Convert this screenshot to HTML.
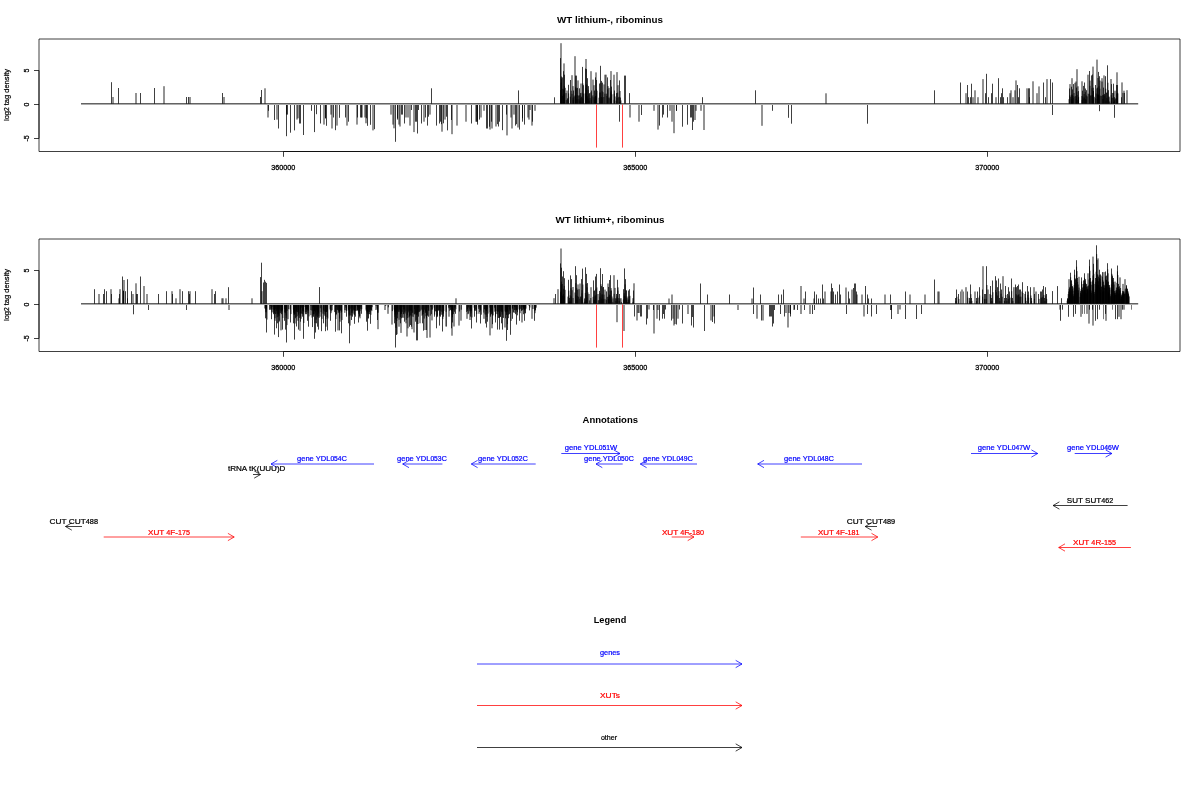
<!DOCTYPE html>
<html><head><meta charset="utf-8"><title>plot</title>
<style>html,body{margin:0;padding:0;background:#fff;}body{width:1200px;height:800px;overflow:hidden;font-family:"Liberation Sans",sans-serif;}svg{display:block;will-change:transform;}</style>
</head><body>
<svg width="1200" height="800" viewBox="0 0 1200 800" font-family="'Liberation Sans', sans-serif">
<rect width="1200" height="800" fill="#fff"/>
<text x="610" y="23.1" font-size="9.9" font-weight="bold" textLength="106" lengthAdjust="spacingAndGlyphs" text-anchor="middle" fill="#000" stroke="#000" stroke-width="0" >WT lithium-, ribominus</text>
<path d="M39 39H1180V151.5H39Z" stroke="#000" stroke-width="0.75" fill="none"/>
<path d="M39 70.5V138.5" stroke="#000" stroke-width="0.75" fill="none"/>
<path d="M34 70.5H39" stroke="#000" stroke-width="0.75" fill="none"/>
<text transform="translate(28.7 70.5) rotate(-90)" font-size="7.0" text-anchor="middle" stroke="#000" stroke-width="0.28">5</text>
<path d="M34 104.5H39" stroke="#000" stroke-width="0.75" fill="none"/>
<text transform="translate(28.7 104.5) rotate(-90)" font-size="7.0" text-anchor="middle" stroke="#000" stroke-width="0.28">0</text>
<path d="M34 138.5H39" stroke="#000" stroke-width="0.75" fill="none"/>
<text transform="translate(28.7 138.5) rotate(-90)" font-size="7.0" text-anchor="middle" stroke="#000" stroke-width="0.28">-5</text>
<text transform="translate(9.1 95) rotate(-90)" font-size="7.92" text-anchor="middle" stroke="#000" stroke-width="0.22" textLength="52" lengthAdjust="spacingAndGlyphs">log<tspan font-size="7.0">2</tspan> tag density</text>
<path d="M283.5 151.5H987.5" stroke="#000" stroke-width="0.75" fill="none"/>
<path d="M283.5 151.5V156.8" stroke="#000" stroke-width="0.75" fill="none"/>
<text x="283.2" y="170.1" font-size="7.0" text-anchor="middle" stroke="#000" stroke-width="0.28" textLength="24" lengthAdjust="spacingAndGlyphs">360000</text>
<path d="M635.5 151.5V156.8" stroke="#000" stroke-width="0.75" fill="none"/>
<text x="635.2" y="170.1" font-size="7.0" text-anchor="middle" stroke="#000" stroke-width="0.28" textLength="24" lengthAdjust="spacingAndGlyphs">365000</text>
<path d="M987.5 151.5V156.8" stroke="#000" stroke-width="0.75" fill="none"/>
<text x="987.2" y="170.1" font-size="7.0" text-anchor="middle" stroke="#000" stroke-width="0.28" textLength="24" lengthAdjust="spacingAndGlyphs">370000</text>
<path d="M111.5 82.2V103.8M118.5 88.0V103.8M140.5 93.0V103.8M154.5 88.0V103.8M186.5 97.0V103.8M188.5 97.0V103.8M222.5 93.0V103.8M260.5 97.0V103.8M261.5 90.0V103.8M268.5 105.0V110.8M274.5 105.0V120.0M278.5 105.0V128.5M286.5 105.0V114.6M287.5 105.0V114.6M286.5 105.0V136.2M290.5 105.0V132.7M294.5 105.0V130.4M299.5 105.0V123.5M300.5 105.0V123.5M303.5 105.0V135.0M311.5 105.0V110.8M314.5 105.0V132.1M316.5 105.0V114.2M320.5 105.0V123.5M325.5 105.0V118.3M325.5 105.0V118.3M326.5 105.0V125.8M333.5 105.0V117.5M335.5 105.0V130.2M339.5 105.0V117.8M345.5 105.0V117.5M348.5 105.0V121.7M357.5 105.0V117.5M360.5 105.0V117.5M361.5 105.0V117.5M367.5 105.0V125.8M366.5 105.0V118.3M370.5 105.0V124.8M374.5 105.0V129.2M395.5 105.0V141.8M397.5 105.0V119.6M397.5 105.0V118.3M401.5 105.0V114.6M402.5 105.0V114.6M404.5 105.0V123.5M411.5 105.0V110.0M415.5 105.0V121.7M416.5 105.0V121.7M417.5 105.0V133.5M418.5 105.0V110.0M421.5 105.0V123.5M425.5 105.0V117.5M427.5 105.0V125.6M428.5 105.0V116.7M431.5 88.3V103.8M436.5 105.0V125.6M439.5 105.0V123.5M440.5 105.0V121.7M441.5 105.0V124.2M443.5 105.0V123.3M446.5 105.0V116.7M447.5 105.0V130.4M451.5 105.0V120.0M471.5 105.0V123.5M476.5 105.0V121.7M477.5 105.0V124.6M477.5 105.0V121.7M479.5 105.0V119.6M486.5 105.0V128.5M487.5 105.0V128.5M489.5 105.0V126.7M491.5 105.0V121.7M497.5 105.0V124.2M498.5 105.0V126.5M499.5 105.0V121.7M502.5 105.0V130.2M506.5 105.0V114.6M515.5 105.0V125.6M516.5 105.0V124.2M519.5 105.0V129.6M518.5 90.4V103.8M522.5 105.0V121.7M522.5 105.0V118.3M524.5 105.0V124.6M532.5 105.0V121.7M554.5 97.3V103.8M560.5 58.1V103.8M561.5 76.5V103.8M562.5 77.4V103.8M563.5 71.2V103.8M564.5 74.7V103.8M568.5 84.8V103.8M570.5 80.0V103.8M573.5 90.5V103.8M575.5 75.6V103.8M576.5 75.6V103.8M577.5 87.9V103.8M579.5 88.3V103.8M580.5 93.1V103.8M582.5 66.9V103.8M583.5 85.2V103.8M585.5 68.6V103.8M586.5 69.1V103.8M587.5 78.2V103.8M588.5 86.1V103.8M589.5 93.1V103.8M591.5 90.5V103.8M594.5 90.5V103.8M595.5 77.4V103.8M596.5 80.0V103.8M599.5 83.5V103.8M600.5 65.8V103.8M601.5 80.9V103.8M602.5 82.6V103.8M607.5 77.4V103.8M610.5 80.0V103.8M611.5 86.6V103.8M614.5 90.5V103.8M616.5 93.1V103.8M619.5 80.4V103.8M620.5 97.5V103.8M624.5 75.6V103.8M625.5 75.6V103.8M629.5 93.1V103.8M619.5 105.0V121.7M641.5 105.0V115.0M659.5 105.0V125.6M662.5 105.0V117.5M663.5 105.0V114.6M667.5 105.0V117.5M676.5 105.0V110.8M676.5 105.0V110.8M682.5 105.0V126.7M687.5 105.0V124.7M690.5 105.0V117.5M691.5 105.0V117.5M692.5 105.0V130.0M693.5 105.0V121.7M702.5 97.2V103.8M755.5 90.3V103.8M772.5 105.0V110.8M788.5 105.0V117.8M791.5 105.0V123.7M867.5 105.0V123.7M934.5 90.3V103.8M960.5 82.5V103.8M967.5 85.0V103.8M968.5 97.2V103.8M970.5 97.2V103.8M971.5 83.7V103.8M985.5 93.2V103.8M986.5 73.8V103.8M988.5 97.2V103.8M991.5 93.2V103.8M992.5 83.7V103.8M998.5 78.2V103.8M1000.5 97.2V103.8M1001.5 93.2V103.8M1002.5 88.3V103.8M1003.5 97.2V103.8M1007.5 97.2V103.8M1017.5 85.0V103.8M1018.5 97.2V103.8M1019.5 88.3V103.8M1028.5 88.3V103.8M1029.5 88.3V103.8M1029.5 97.2V103.8M1043.5 82.5V103.8M1045.5 97.2V103.8M1050.5 79.1V103.8M1052.5 82.5V103.8M1052.5 105.0V115.0M1069.5 88.5V103.8M1071.5 86.7V103.8M1072.5 89.4V103.8M1073.5 84.1V103.8M1076.5 87.6V103.8M1078.5 91.1V103.8M1082.5 90.7V103.8M1083.5 85.9V103.8M1084.5 82.5V103.8M1085.5 88.5V103.8M1086.5 90.2V103.8M1089.5 71.0V103.8M1091.5 75.4V103.8M1092.5 74.5V103.8M1093.5 91.1V103.8M1095.5 85.0V103.8M1097.5 87.6V103.8M1098.5 71.9V103.8M1099.5 76.2V103.8M1103.5 87.6V103.8M1105.5 76.2V103.8M1106.5 92.9V103.8M1107.5 65.3V103.8M1108.5 90.2V103.8M1111.5 84.1V103.8M1113.5 83.7V103.8M1114.5 97.2V103.8M1116.5 85.0V103.8M1117.5 85.0V103.8M1121.5 97.2V103.8M1124.5 92.9V103.8M1099.5 105.0V111.2M1114.5 105.0V117.8" stroke="#000" stroke-width="0.75" fill="none"/>
<path d="M113 97.0V103.8M136 93.0V103.8M164 86.2V103.8M190 97.0V103.8M224 97.0V103.8M265 88.3V103.8M268 105.0V117.5M277 105.0V119.6M297 105.0V119.6M298 105.0V118.3M324 105.0V124.6M331 105.0V114.6M332 105.0V128.5M337 105.0V125.6M347 105.0V125.6M357 105.0V124.6M362 105.0V117.5M365 105.0V117.5M366 105.0V123.3M373 105.0V130.4M391 105.0V114.6M393 105.0V124.6M394 105.0V128.3M399 105.0V124.6M400 105.0V126.5M406 105.0V117.5M408 105.0V117.5M410 105.0V125.6M414 105.0V132.1M424 105.0V121.7M430 105.0V114.6M442 105.0V131.7M445 105.0V119.6M452 105.0V134.2M457 105.0V125.6M466 105.0V121.7M476 105.0V121.7M481 105.0V117.5M484 105.0V110.8M490 105.0V129.6M492 105.0V128.5M496 105.0V126.5M507 105.0V135.4M511 105.0V117.5M512 105.0V128.5M514 105.0V114.6M518 105.0V127.5M528 105.0V117.5M529 105.0V119.6M530 105.0V110.0M532 105.0V125.6M535 105.0V110.8M561 43.2V103.8M564 63.4V103.8M566 93.1V103.8M567 90.5V103.8M572 75.2V103.8M573 86.1V103.8M575 56.2V103.8M578 80.4V103.8M581 83.5V103.8M586 59.0V103.8M591 71.2V103.8M593 79.6V103.8M594 85.2V103.8M596 72.4V103.8M604 84.4V103.8M605 74.7V103.8M606 74.7V103.8M608 86.1V103.8M609 87.9V103.8M611 71.1V103.8M614 74.7V103.8M617 72.1V103.8M618 85.2V103.8M630 105.0V117.5M639 105.0V121.7M654 105.0V110.8M658 105.0V129.6M670 105.0V110.8M672 105.0V121.7M674 105.0V133.2M695 105.0V120.0M696 105.0V110.8M701 105.0V110.8M704 105.0V130.0M762 105.0V125.8M826 93.3V103.8M966 93.2V103.8M973 97.2V103.8M975 90.3V103.8M978 97.2V103.8M983 79.1V103.8M996 97.2V103.8M1010 93.2V103.8M1011 90.3V103.8M1013 97.2V103.8M1015 90.3V103.8M1016 80.4V103.8M1027 88.3V103.8M1033 81.3V103.8M1037 93.2V103.8M1039 86.4V103.8M1047 79.1V103.8M1070 84.1V103.8M1072 78.2V103.8M1075 82.8V103.8M1076 81.5V103.8M1077 69.2V103.8M1078 86.3V103.8M1082 81.3V103.8M1088 74.7V103.8M1090 80.6V103.8M1093 66.6V103.8M1097 59.6V103.8M1098 78.0V103.8M1100 80.6V103.8M1102 81.5V103.8M1102 78.2V103.8M1104 75.4V103.8M1109 97.2V103.8M1111 79.0V103.8M1115 90.7V103.8M1117 72.3V103.8M1122 82.4V103.8M1123 92.9V103.8M1124 90.7V103.8M1127 90.2V103.8" stroke="#000" stroke-width="0.85" fill="none"/>
<path d="M561.24 82.6V103.8M561.44 78.7V103.8M560.54 90.1V103.8M562.31 88.8V103.8M561.41 95.6V103.8M563.45 89.3V103.8M562.55 95.9V103.8M564.12 89.7V103.8M564.32 85.9V103.8M563.42 94.1V103.8M565.20 87.8V103.8M564.30 95.1V103.8M566.22 100.1V103.8M567.36 99.2V103.8M568.61 93.4V103.8M567.71 98.1V103.8M571.23 90.7V103.8M570.33 96.7V103.8M572.00 93.8V103.8M573.05 97.6V103.8M574.12 96.5V103.8M573.22 99.8V103.8M575.67 87.2V103.8M575.87 88.3V103.8M574.97 95.4V103.8M576.75 88.3V103.8M575.85 95.4V103.8M577.80 95.1V103.8M576.90 99.1V103.8M578.73 95.7V103.8M579.81 95.3V103.8M578.91 99.2V103.8M580.86 97.9V103.8M579.96 100.6V103.8M581.53 96.7V103.8M582.87 83.5V103.8M581.97 92.8V103.8M583.75 93.6V103.8M582.85 98.3V103.8M586.00 88.2V103.8M586.20 84.5V103.8M585.30 93.3V103.8M587.07 84.7V103.8M586.17 93.4V103.8M588.12 89.8V103.8M587.22 96.2V103.8M589.00 94.1V103.8M588.10 98.5V103.8M590.05 97.9V103.8M589.15 100.6V103.8M590.89 92.4V103.8M592.06 96.5V103.8M591.16 99.8V103.8M592.91 95.3V103.8M594.04 97.3V103.8M595.29 96.5V103.8M594.39 99.8V103.8M596.23 92.8V103.8M596.43 89.3V103.8M595.53 95.9V103.8M597.04 90.7V103.8M596.14 96.7V103.8M599.93 92.7V103.8M599.03 97.7V103.8M600.98 82.9V103.8M600.08 92.4V103.8M602.12 91.2V103.8M601.22 97.0V103.8M602.99 92.2V103.8M602.09 97.5V103.8M603.84 97.0V103.8M604.98 93.7V103.8M606.73 93.7V103.8M607.81 89.3V103.8M606.91 95.9V103.8M608.74 97.6V103.8M609.79 98.3V103.8M610.84 92.4V103.8M611.04 90.7V103.8M610.14 96.7V103.8M611.92 94.3V103.8M611.02 98.7V103.8M614.17 93.7V103.8M615.07 96.5V103.8M614.17 99.8V103.8M616.99 97.9V103.8M616.09 100.6V103.8M617.67 92.7V103.8M618.72 97.3V103.8M620.05 91.0V103.8M619.15 96.8V103.8M620.93 100.4V103.8M620.03 101.9V103.8M1069.95 95.4V103.8M1069.05 99.2V103.8M1070.80 96.9V103.8M1071.94 94.9V103.8M1072.14 94.4V103.8M1071.24 98.7V103.8M1073.01 95.9V103.8M1072.11 99.5V103.8M1074.06 93.0V103.8M1073.16 97.9V103.8M1074.91 96.5V103.8M1075.87 96.0V103.8M1076.92 91.7V103.8M1077.12 94.9V103.8M1076.22 99.0V103.8M1078.41 97.7V103.8M1078.61 96.8V103.8M1077.71 100.0V103.8M1081.91 96.0V103.8M1082.98 96.6V103.8M1082.08 99.9V103.8M1084.12 94.0V103.8M1083.22 98.5V103.8M1085.26 92.1V103.8M1084.36 97.5V103.8M1086.31 95.4V103.8M1085.41 99.2V103.8M1087.18 96.4V103.8M1086.28 99.8V103.8M1088.12 93.6V103.8M1089.98 85.8V103.8M1089.08 94.0V103.8M1090.66 95.7V103.8M1092.00 88.2V103.8M1091.10 95.3V103.8M1093.11 90.8V103.8M1093.31 87.7V103.8M1092.41 95.0V103.8M1094.18 96.8V103.8M1093.28 100.0V103.8M1096.20 93.5V103.8M1095.30 98.2V103.8M1096.87 88.4V103.8M1097.92 94.8V103.8M1098.12 94.9V103.8M1097.22 99.0V103.8M1099.00 86.3V103.8M1098.10 94.3V103.8M1099.87 88.7V103.8M1098.97 95.6V103.8M1100.72 95.7V103.8M1101.86 96.0V103.8M1102.73 94.9V103.8M1103.81 94.9V103.8M1102.91 99.0V103.8M1104.48 93.9V103.8M1105.73 88.7V103.8M1104.83 95.6V103.8M1106.87 97.8V103.8M1105.97 100.6V103.8M1107.92 82.7V103.8M1107.02 92.3V103.8M1108.88 96.4V103.8M1107.98 99.8V103.8M1109.73 101.5V103.8M1111.31 95.2V103.8M1112.38 93.0V103.8M1111.48 97.9V103.8M1113.61 92.8V103.8M1112.71 97.8V103.8M1114.57 100.2V103.8M1113.67 101.9V103.8M1115.24 99.2V103.8M1116.76 93.5V103.8M1115.86 98.2V103.8M1117.61 92.8V103.8M1117.81 93.5V103.8M1116.91 98.2V103.8" stroke="#000" stroke-width="0.75" fill="none"/>
<path d="" stroke="#000" stroke-opacity="0.7" stroke-width="0.75" fill="none"/>
<path d="M81 103.85H1138.2" stroke="#111" stroke-width="1" fill="none"/>
<path d="M596.5 104.5V147.6M622.5 104.5V147.6" stroke="#f00" stroke-width="0.75" fill="none"/>
<text x="610" y="223.1" font-size="9.9" font-weight="bold" textLength="109" lengthAdjust="spacingAndGlyphs" text-anchor="middle" fill="#000" stroke="#000" stroke-width="0" >WT lithium+, ribominus</text>
<path d="M39 239H1180V351.5H39Z" stroke="#000" stroke-width="0.75" fill="none"/>
<path d="M39 270.5V338.5" stroke="#000" stroke-width="0.75" fill="none"/>
<path d="M34 270.5H39" stroke="#000" stroke-width="0.75" fill="none"/>
<text transform="translate(28.7 270.5) rotate(-90)" font-size="7.0" text-anchor="middle" stroke="#000" stroke-width="0.28">5</text>
<path d="M34 304.5H39" stroke="#000" stroke-width="0.75" fill="none"/>
<text transform="translate(28.7 304.5) rotate(-90)" font-size="7.0" text-anchor="middle" stroke="#000" stroke-width="0.28">0</text>
<path d="M34 338.5H39" stroke="#000" stroke-width="0.75" fill="none"/>
<text transform="translate(28.7 338.5) rotate(-90)" font-size="7.0" text-anchor="middle" stroke="#000" stroke-width="0.28">-5</text>
<text transform="translate(9.1 295) rotate(-90)" font-size="7.92" text-anchor="middle" stroke="#000" stroke-width="0.22" textLength="52" lengthAdjust="spacingAndGlyphs">log<tspan font-size="7.0">2</tspan> tag density</text>
<path d="M283.5 351.5H987.5" stroke="#000" stroke-width="0.75" fill="none"/>
<path d="M283.5 351.5V356.8" stroke="#000" stroke-width="0.75" fill="none"/>
<text x="283.2" y="370.1" font-size="7.0" text-anchor="middle" stroke="#000" stroke-width="0.28" textLength="24" lengthAdjust="spacingAndGlyphs">360000</text>
<path d="M635.5 351.5V356.8" stroke="#000" stroke-width="0.75" fill="none"/>
<text x="635.2" y="370.1" font-size="7.0" text-anchor="middle" stroke="#000" stroke-width="0.28" textLength="24" lengthAdjust="spacingAndGlyphs">365000</text>
<path d="M987.5 351.5V356.8" stroke="#000" stroke-width="0.75" fill="none"/>
<text x="987.2" y="370.1" font-size="7.0" text-anchor="middle" stroke="#000" stroke-width="0.28" textLength="24" lengthAdjust="spacingAndGlyphs">370000</text>
<path d="M94.5 289.2V303.9M103.5 294.0V303.9M104.5 289.2V303.9M106.5 291.2V303.9M111.5 294.0V303.9M119.5 294.0V303.9M122.5 276.5V303.9M123.5 290.8V303.9M123.5 290.8V303.9M125.5 291.2V303.9M127.5 279.2V303.9M127.5 298.3V303.9M131.5 291.2V303.9M136.5 294.0V303.9M137.5 294.0V303.9M140.5 276.5V303.9M158.5 294.0V303.9M166.5 291.2V303.9M172.5 294.0V303.9M133.5 305.0V314.3M148.5 305.0V310.0M182.5 291.2V303.9M188.5 291.2V303.9M189.5 294.0V303.9M195.5 291.2V303.9M214.5 294.0V303.9M215.5 291.2V303.9M228.5 287.2V303.9M260.5 277.1V303.9M261.5 262.7V303.9M263.5 282.5V303.9M264.5 279.8V303.9M265.5 281.7V303.9M266.5 282.9V303.9M186.5 305.0V310.0M265.5 305.0V318.3M266.5 305.0V332.5M271.5 305.0V319.2M273.5 305.0V314.2M274.5 305.0V334.6M276.5 305.0V328.3M277.5 305.0V323.3M278.5 305.0V337.1M279.5 305.0V320.8M281.5 305.0V314.2M282.5 305.0V329.6M284.5 305.0V320.8M285.5 305.0V329.6M286.5 305.0V342.5M290.5 305.0V322.5M293.5 305.0V323.3M294.5 305.0V339.6M295.5 305.0V318.3M296.5 305.0V326.5M298.5 305.0V329.6M300.5 305.0V321.7M302.5 305.0V316.7M303.5 305.0V338.8M305.5 305.0V314.2M306.5 305.0V314.2M307.5 305.0V320.8M308.5 305.0V326.7M312.5 305.0V327.1M313.5 305.0V316.7M314.5 305.0V338.8M315.5 305.0V332.5M316.5 305.0V323.3M317.5 305.0V326.7M318.5 305.0V329.6M321.5 305.0V331.2M319.5 287.1V303.9M323.5 305.0V323.3M325.5 305.0V331.2M327.5 305.0V330.4M330.5 305.0V320.8M335.5 305.0V331.7M336.5 305.0V314.2M339.5 305.0V330.4M341.5 305.0V333.3M346.5 305.0V316.7M348.5 305.0V323.3M349.5 305.0V343.3M351.5 305.0V320.0M352.5 305.0V316.7M354.5 305.0V323.8M355.5 305.0V316.7M357.5 305.0V310.0M358.5 305.0V322.5M359.5 305.0V316.7M361.5 305.0V313.8M366.5 305.0V321.7M367.5 305.0V330.7M368.5 305.0V318.3M369.5 305.0V314.2M370.5 305.0V323.8M371.5 305.0V310.0M377.5 305.0V320.0M394.5 305.0V323.3M395.5 305.0V347.5M396.5 305.0V335.0M397.5 305.0V318.3M400.5 305.0V323.3M401.5 305.0V318.3M403.5 305.0V314.2M404.5 305.0V321.7M409.5 305.0V326.7M410.5 305.0V325.0M411.5 305.0V326.7M415.5 305.0V321.7M416.5 305.0V340.4M417.5 305.0V340.4M418.5 305.0V316.7M422.5 305.0V323.3M423.5 305.0V330.7M426.5 305.0V330.0M428.5 305.0V316.7M431.5 305.0V314.2M434.5 305.0V316.7M436.5 305.0V328.3M437.5 305.0V316.7M439.5 305.0V325.6M440.5 305.0V316.7M442.5 305.0V331.5M443.5 305.0V316.7M450.5 305.0V310.0M451.5 305.0V328.3M452.5 305.0V322.5M455.5 305.0V313.8M470.5 305.0V316.7M471.5 305.0V328.5M474.5 305.0V316.7M476.5 305.0V322.5M480.5 305.0V323.5M485.5 305.0V323.5M486.5 305.0V327.5M487.5 305.0V321.7M490.5 305.0V316.7M492.5 305.0V324.2M495.5 305.0V316.7M495.5 305.0V322.5M497.5 305.0V329.6M499.5 305.0V329.6M500.5 305.0V316.7M501.5 305.0V323.3M502.5 305.0V329.6M505.5 305.0V318.3M506.5 305.0V340.8M507.5 305.0V330.0M509.5 305.0V314.2M510.5 305.0V334.8M512.5 305.0V318.8M514.5 305.0V310.0M515.5 305.0V314.2M516.5 305.0V324.6M519.5 305.0V320.8M523.5 305.0V314.2M524.5 305.0V320.8M525.5 305.0V313.3M529.5 305.0V310.4M534.5 305.0V320.8M535.5 305.0V310.0M555.5 294.0V303.9M560.5 263.4V303.9M561.5 267.7V303.9M562.5 276.5V303.9M563.5 271.2V303.9M564.5 278.2V303.9M568.5 279.8V303.9M569.5 297.9V303.9M570.5 275.4V303.9M571.5 279.1V303.9M575.5 266.2V303.9M576.5 275.2V303.9M577.5 289.6V303.9M581.5 279.1V303.9M582.5 268.6V303.9M584.5 298.4V303.9M585.5 267.3V303.9M586.5 273.9V303.9M587.5 283.1V303.9M593.5 280.4V303.9M594.5 290.5V303.9M595.5 276.5V303.9M596.5 273.9V303.9M599.5 290.9V303.9M600.5 268.2V303.9M601.5 286.1V303.9M602.5 274.0V303.9M603.5 287.0V303.9M606.5 291.4V303.9M608.5 287.0V303.9M609.5 280.0V303.9M610.5 275.2V303.9M611.5 290.5V303.9M616.5 294.0V303.9M617.5 279.8V303.9M619.5 294.0V303.9M623.5 289.2V303.9M624.5 268.4V303.9M625.5 279.1V303.9M626.5 290.5V303.9M628.5 290.5V303.9M629.5 289.2V303.9M633.5 290.5V303.9M634.5 305.0V316.5M640.5 305.0V316.5M641.5 305.0V316.5M646.5 305.0V324.5M647.5 305.0V318.5M653.5 305.0V310.0M659.5 305.0V320.5M662.5 305.0V318.7M663.5 305.0V314.0M664.5 305.0V318.7M665.5 305.0V309.5M671.5 305.0V320.5M676.5 305.0V324.5M679.5 305.0V309.5M682.5 305.0V323.5M691.5 305.0V325.5M692.5 305.0V317.0M693.5 305.0V327.5M700.5 283.5V303.9M707.5 294.5V303.9M729.5 294.5V303.9M753.5 287.5V303.9M760.5 294.5V303.9M778.5 294.5V303.9M781.5 294.5V303.9M783.5 289.5V303.9M805.5 291.5V303.9M814.5 291.5V303.9M816.5 294.5V303.9M818.5 298.5V303.9M704.5 305.0V331.0M712.5 305.0V322.0M714.5 305.0V323.5M753.5 305.0V314.0M761.5 305.0V320.5M769.5 305.0V316.5M770.5 305.0V316.5M771.5 305.0V316.5M772.5 305.0V326.5M773.5 305.0V323.5M774.5 305.0V310.0M780.5 305.0V314.0M784.5 305.0V316.5M790.5 305.0V314.0M790.5 305.0V316.5M794.5 305.0V309.5M797.5 305.0V310.0M804.5 305.0V310.0M812.5 305.0V314.0M814.5 305.0V310.0M820.5 298.5V303.9M822.5 284.5V303.9M823.5 298.5V303.9M831.5 283.5V303.9M832.5 288.0V303.9M833.5 291.5V303.9M835.5 294.5V303.9M837.5 291.5V303.9M839.5 284.5V303.9M840.5 294.5V303.9M848.5 291.5V303.9M849.5 298.5V303.9M853.5 288.0V303.9M854.5 283.5V303.9M855.5 283.5V303.9M856.5 291.5V303.9M865.5 286.0V303.9M867.5 294.5V303.9M868.5 298.5V303.9M871.5 298.5V303.9M890.5 294.5V303.9M905.5 291.5V303.9M934.5 279.5V303.9M846.5 305.0V314.0M867.5 305.0V314.0M871.5 305.0V316.5M876.5 305.0V314.0M890.5 305.0V310.0M891.5 305.0V310.0M891.5 305.0V319.0M905.5 305.0V319.0M916.5 305.0V319.0M921.5 305.0V314.0M955.5 298.0V303.9M956.5 289.5V303.9M958.5 294.0V303.9M967.5 291.5V303.9M969.5 298.0V303.9M970.5 284.5V303.9M971.5 298.0V303.9M976.5 298.0V303.9M977.5 291.5V303.9M979.5 287.2V303.9M982.5 289.5V303.9M984.5 294.0V303.9M985.5 294.0V303.9M986.5 266.2V303.9M990.5 286.0V303.9M991.5 298.0V303.9M992.5 280.5V303.9M995.5 276.2V303.9M996.5 280.5V303.9M997.5 287.2V303.9M998.5 278.5V303.9M999.5 298.0V303.9M1000.5 283.5V303.9M1001.5 289.5V303.9M1004.5 298.0V303.9M1005.5 286.0V303.9M1006.5 298.0V303.9M1007.5 294.0V303.9M1008.5 287.2V303.9M1009.5 291.5V303.9M1011.5 278.5V303.9M1012.5 298.0V303.9M1015.5 284.5V303.9M1016.5 287.2V303.9M1017.5 286.0V303.9M1018.5 284.5V303.9M1019.5 289.5V303.9M1020.5 289.5V303.9M1022.5 282.2V303.9M1025.5 291.5V303.9M1025.5 298.0V303.9M1027.5 286.0V303.9M1028.5 291.5V303.9M1030.5 287.2V303.9M1031.5 298.0V303.9M1034.5 294.0V303.9M1038.5 294.0V303.9M1040.5 291.5V303.9M1041.5 291.5V303.9M1042.5 289.5V303.9M1043.5 286.0V303.9M1044.5 298.0V303.9M1045.5 287.2V303.9M1046.5 294.0V303.9M1052.5 291.1V303.9M1057.5 286.1V303.9M1061.5 298.2V303.9M1067.5 298.2V303.9M1069.5 287.5V303.9M1070.5 272.7V303.9M1071.5 280.4V303.9M1072.5 286.3V303.9M1074.5 269.7V303.9M1075.5 279.2V303.9M1076.5 260.2V303.9M1077.5 278.0V303.9M1080.5 291.1V303.9M1081.5 277.4V303.9M1082.5 287.5V303.9M1083.5 280.4V303.9M1084.5 273.3V303.9M1085.5 279.2V303.9M1086.5 283.9V303.9M1087.5 286.3V303.9M1089.5 259.6V303.9M1090.5 278.0V303.9M1093.5 263.8V303.9M1095.5 278.0V303.9M1096.5 245.3V303.9M1097.5 274.4V303.9M1099.5 269.7V303.9M1100.5 274.4V303.9M1102.5 272.1V303.9M1103.5 281.6V303.9M1105.5 271.5V303.9M1106.5 275.6V303.9M1107.5 263.2V303.9M1108.5 281.6V303.9M1109.5 285.1V303.9M1111.5 268.5V303.9M1112.5 275.6V303.9M1113.5 278.0V303.9M1114.5 291.1V303.9M1116.5 287.5V303.9M1117.5 265.5V303.9M1118.5 283.9V303.9M1119.5 286.3V303.9M1121.5 294.6V303.9M1122.5 291.1V303.9M1123.5 291.1V303.9M1126.5 285.1V303.9M1126.5 286.3V303.9M1127.5 288.7V303.9M1128.5 294.0V303.9M1060.5 305.0V320.8M1062.5 305.0V309.7M1068.5 305.0V316.8M1073.5 305.0V316.8M1075.5 305.0V313.9M1089.5 305.0V309.7M1092.5 305.0V309.7M1095.5 305.0V320.8M1097.5 305.0V319.2M1099.5 305.0V309.7M1105.5 305.0V313.9M1115.5 305.0V319.2M1117.5 305.0V319.2M1122.5 305.0V309.7" stroke="#000" stroke-width="0.75" fill="none"/>
<path d="M99 294.0V303.9M111 289.2V303.9M119 298.3V303.9M120 289.2V303.9M124 280.0V303.9M133 294.0V303.9M136 283.3V303.9M144 286.0V303.9M147 294.0V303.9M172 291.2V303.9M176 298.3V303.9M180 289.2V303.9M190 291.2V303.9M212 289.2V303.9M222 298.3V303.9M223 298.3V303.9M226 298.3V303.9M252 298.3V303.9M262 291.2V303.9M229 305.0V310.0M270 305.0V310.0M275 305.0V318.3M281 305.0V330.4M288 305.0V319.2M298 305.0V320.8M300 305.0V330.8M311 305.0V310.0M320 305.0V316.7M326 305.0V326.7M332 305.0V310.0M338 305.0V330.4M340 305.0V321.7M345 305.0V310.0M360 305.0V318.3M376 305.0V310.0M378 305.0V329.2M385 305.0V310.0M388 305.0V313.8M392 305.0V324.6M397 305.0V334.2M399 305.0V326.7M401 305.0V332.9M406 305.0V323.3M407 305.0V336.5M408 305.0V328.3M412 305.0V329.2M414 305.0V332.5M420 305.0V323.3M425 305.0V330.0M427 305.0V337.9M430 305.0V337.5M432 305.0V320.4M446 305.0V326.5M449 305.0V316.7M452 305.0V335.7M454 305.0V326.5M456 298.3V303.9M459 305.0V325.6M461 305.0V320.7M467 305.0V318.8M468 305.0V314.2M470 305.0V320.0M479 305.0V313.8M484 305.0V318.8M490 305.0V335.4M492 305.0V328.3M505 305.0V327.5M522 305.0V322.5M532 305.0V318.8M554 298.2V303.9M558 289.2V303.9M561 248.5V303.9M573 287.0V303.9M578 284.4V303.9M579 289.2V303.9M580 283.5V303.9M589 294.0V303.9M591 287.2V303.9M598 294.0V303.9M605 289.6V303.9M608 283.5V303.9M613 298.4V303.9M614 275.2V303.9M615 287.9V303.9M618 287.4V303.9M621 298.2V303.9M627 298.2V303.9M633 298.2V303.9M634 283.3V303.9M617 305.0V322.2M624 305.0V331.0M637 305.0V320.5M638 305.0V313.0M639 305.0V313.0M649 305.0V309.5M654 305.0V333.5M657 305.0V318.7M658 305.0V310.0M673 305.0V318.7M674 305.0V325.5M675 305.0V324.0M678 305.0V318.7M688 305.0V314.0M669 298.5V303.9M672 294.5V303.9M752 298.5V303.9M801 286.0V303.9M804 298.5V303.9M814 298.5V303.9M711 305.0V320.5M714 305.0V316.5M738 305.0V310.0M757 305.0V318.7M763 305.0V320.5M786 305.0V313.0M788 305.0V327.5M789 305.0V313.0M794 305.0V310.0M801 305.0V314.0M810 305.0V314.0M825 291.5V303.9M831 291.5V303.9M846 287.5V303.9M852 289.5V303.9M857 294.5V303.9M862 294.5V303.9M885 294.5V303.9M910 294.5V303.9M925 294.5V303.9M938 291.5V303.9M939 291.5V303.9M864 305.0V316.5M898 305.0V314.0M900 305.0V309.5M962 289.5V303.9M966 287.2V303.9M975 291.5V303.9M983 266.2V303.9M988 289.5V303.9M990 294.0V303.9M1003 276.2V303.9M1015 287.2V303.9M1022 291.5V303.9M1025 294.0V303.9M1034 287.2V303.9M1036 291.5V303.9M1069 279.2V303.9M1074 287.5V303.9M1079 276.8V303.9M1088 273.3V303.9M1091 281.6V303.9M1093 256.6V303.9M1094 283.9V303.9M1098 258.4V303.9M1101 275.6V303.9M1104 272.1V303.9M1111 287.5V303.9M1115 281.6V303.9M1120 277.4V303.9M1123 283.9V303.9M1125 279.2V303.9M1060 305.0V309.7M1081 305.0V316.8M1087 305.0V313.9M1089 305.0V323.6M1093 305.0V325.6M1106 305.0V320.8M1119 305.0V316.8M1121 305.0V319.2M1124 305.0V309.7" stroke="#000" stroke-width="0.85" fill="none"/>
<path d="M265.19 305.0V308.9M266.48 305.0V308.4M269.72 305.0V309.5M270.92 305.0V309.3M272.08 305.0V309.6M273.04 305.0V312.4M274.43 305.0V310.0M275.47 305.0V314.0M276.94 305.0V313.6M278.08 305.0V316.8M279.00 305.0V315.9M280.08 305.0V310.2M281.05 305.0V311.5M282.44 305.0V310.4M284.88 305.0V312.4M286.11 305.0V309.6M287.05 305.0V310.9M293.76 305.0V312.8M295.01 305.0V314.1M296.09 305.0V317.1M297.41 305.0V312.2M298.65 305.0V314.7M300.08 305.0V316.6M301.15 305.0V318.8M302.12 305.0V313.8M303.47 305.0V311.4M305.32 305.0V312.3M306.68 305.0V311.9M308.11 305.0V310.6M310.86 305.0V315.2M312.03 305.0V317.6M313.50 305.0V314.3M314.80 305.0V310.5M316.12 305.0V315.8M317.61 305.0V317.4M318.68 305.0V313.5M323.01 305.0V313.7M324.01 305.0V310.9M324.95 305.0V316.1M325.93 305.0V312.0M327.06 305.0V317.0M330.27 305.0V310.2M331.70 305.0V311.3M334.87 305.0V311.9M335.98 305.0V315.2M337.46 305.0V310.1M338.46 305.0V310.6M339.50 305.0V312.4M340.76 305.0V310.8M341.66 305.0V311.9M344.84 305.0V312.8M346.15 305.0V310.6M348.91 305.0V310.4M350.35 305.0V315.5M351.77 305.0V315.6M352.91 305.0V312.8M353.87 305.0V314.4M354.81 305.0V310.5M355.83 305.0V311.1M356.93 305.0V310.4M357.83 305.0V311.1M358.80 305.0V312.5M359.71 305.0V316.1M366.09 305.0V310.5M367.20 305.0V311.2M368.17 305.0V314.1M369.67 305.0V311.8M370.86 305.0V309.5M371.82 305.0V311.1M394.50 305.0V311.6M395.41 305.0V319.5M396.63 305.0V311.5M397.85 305.0V310.3M399.07 305.0V319.8M400.49 305.0V317.0M401.55 305.0V313.7M402.55 305.0V317.7M403.77 305.0V317.8M404.86 305.0V312.2M406.25 305.0V319.8M407.66 305.0V318.1M409.05 305.0V317.4M410.09 305.0V315.2M411.20 305.0V310.3M412.12 305.0V312.8M413.17 305.0V316.9M414.65 305.0V314.5M416.11 305.0V319.9M417.58 305.0V313.6M418.62 305.0V312.3M419.63 305.0V312.0M422.04 305.0V315.7M423.23 305.0V314.2M424.61 305.0V309.7M425.90 305.0V316.3M427.27 305.0V315.0M428.46 305.0V310.4M434.70 305.0V314.6M436.18 305.0V311.8M437.32 305.0V315.6M438.66 305.0V310.2M439.63 305.0V310.1M441.08 305.0V314.6M442.07 305.0V314.8M443.55 305.0V313.6M448.83 305.0V307.5M449.74 305.0V310.9M451.03 305.0V309.1M452.49 305.0V308.7M453.91 305.0V310.3M454.94 305.0V308.0M466.64 305.0V311.9M467.70 305.0V311.1M468.68 305.0V313.6M469.79 305.0V311.3M471.04 305.0V313.5M474.55 305.0V310.5M475.77 305.0V310.6M478.76 305.0V308.9M479.67 305.0V312.0M480.67 305.0V310.4M483.83 305.0V312.6M485.04 305.0V314.4M486.42 305.0V310.8M490.15 305.0V312.2M491.51 305.0V314.1M492.75 305.0V316.1M494.77 305.0V311.7M495.97 305.0V311.1M497.77 305.0V314.3M498.96 305.0V317.5M500.28 305.0V317.0M501.74 305.0V312.1M502.98 305.0V317.5M505.08 305.0V310.7M506.25 305.0V310.4M507.29 305.0V310.4M508.59 305.0V314.7M510.03 305.0V310.9M512.40 305.0V308.7M513.83 305.0V312.8M514.86 305.0V312.8M516.00 305.0V310.4M517.49 305.0V312.2M519.26 305.0V310.1M520.36 305.0V308.8M521.45 305.0V310.9M522.37 305.0V310.2M523.53 305.0V308.1M524.63 305.0V310.5M525.84 305.0V308.3M534.97 305.0V310.9M535.94 305.0V308.1M265.92 305.0V311.8M265.02 305.0V308.2M267.00 305.0V319.6M266.10 305.0V312.4M270.30 305.0V306.0M271.92 305.0V312.3M271.02 305.0V308.4M273.83 305.0V309.5M272.93 305.0V306.9M275.08 305.0V320.8M274.18 305.0V313.1M275.72 305.0V308.9M277.17 305.0V317.3M276.27 305.0V311.2M278.17 305.0V314.6M277.27 305.0V309.7M279.00 305.0V322.1M278.10 305.0V313.8M280.08 305.0V313.2M279.18 305.0V308.9M280.88 305.0V313.1M282.00 305.0V309.5M281.10 305.0V306.9M282.83 305.0V318.0M281.93 305.0V311.6M285.33 305.0V313.2M284.43 305.0V308.9M286.17 305.0V318.0M285.27 305.0V311.6M287.00 305.0V325.1M286.10 305.0V315.4M288.63 305.0V309.2M291.00 305.0V314.1M290.10 305.0V309.4M294.25 305.0V314.6M293.35 305.0V309.7M295.08 305.0V323.5M294.18 305.0V314.6M296.17 305.0V311.8M295.27 305.0V308.2M297.17 305.0V316.3M296.27 305.0V310.6M297.97 305.0V309.8M299.25 305.0V318.0M298.35 305.0V311.6M300.13 305.0V313.3M301.33 305.0V313.6M300.43 305.0V309.2M302.58 305.0V310.9M301.68 305.0V307.7M303.83 305.0V323.0M302.93 305.0V314.3M305.92 305.0V309.5M305.02 305.0V306.9M306.92 305.0V309.5M306.02 305.0V306.9M308.00 305.0V313.2M307.10 305.0V308.9M309.00 305.0V316.4M308.10 305.0V310.7M310.97 305.0V306.0M313.00 305.0V316.6M312.10 305.0V310.8M314.25 305.0V310.9M313.35 305.0V307.7M315.08 305.0V323.0M314.18 305.0V314.3M316.17 305.0V319.6M315.27 305.0V312.4M317.17 305.0V314.6M316.27 305.0V309.7M318.17 305.0V316.4M317.27 305.0V310.7M319.08 305.0V318.0M318.18 305.0V311.6M320.30 305.0V308.3M322.00 305.0V318.9M321.10 305.0V312.1M324.25 305.0V314.6M323.35 305.0V309.7M325.92 305.0V318.9M325.02 305.0V312.1M326.72 305.0V311.8M327.83 305.0V318.5M326.93 305.0V311.8M331.08 305.0V313.2M330.18 305.0V308.9M331.97 305.0V306.0M335.92 305.0V319.1M335.02 305.0V312.2M337.17 305.0V309.5M336.27 305.0V306.9M338.22 305.0V313.1M339.67 305.0V318.5M338.77 305.0V311.8M340.72 305.0V310.1M342.00 305.0V320.1M341.10 305.0V312.7M345.30 305.0V306.0M346.75 305.0V310.9M345.85 305.0V307.7M349.25 305.0V314.6M348.35 305.0V309.7M350.08 305.0V325.6M349.18 305.0V315.7M351.75 305.0V312.7M350.85 305.0V308.7M353.00 305.0V310.9M352.10 305.0V307.7M354.50 305.0V314.8M353.60 305.0V309.8M355.92 305.0V310.9M355.02 305.0V307.7M357.58 305.0V307.2M356.68 305.0V305.7M358.83 305.0V314.1M357.93 305.0V309.4M360.08 305.0V310.9M359.18 305.0V307.7M360.72 305.0V308.9M361.75 305.0V309.3M360.85 305.0V306.8M367.17 305.0V313.6M366.27 305.0V309.2M368.00 305.0V318.6M367.10 305.0V311.9M368.83 305.0V311.8M367.93 305.0V308.2M369.83 305.0V309.5M368.93 305.0V306.9M370.92 305.0V314.8M370.02 305.0V309.8M372.17 305.0V307.2M371.27 305.0V305.7M376.13 305.0V306.0M377.80 305.0V312.7M378.00 305.0V312.7M377.10 305.0V308.7M385.72 305.0V306.0M388.38 305.0V307.3M392.38 305.0V311.1M395.08 305.0V314.6M394.18 305.0V309.7M395.92 305.0V327.9M395.02 305.0V316.9M396.75 305.0V321.0M395.85 305.0V313.2M397.38 305.0V314.5M398.42 305.0V311.8M397.52 305.0V308.2M399.30 305.0V311.8M400.50 305.0V314.6M399.60 305.0V309.7M401.13 305.0V314.0M402.17 305.0V311.8M401.27 305.0V308.2M403.83 305.0V309.5M402.93 305.0V306.9M405.08 305.0V313.6M404.18 305.0V309.2M405.97 305.0V310.7M407.22 305.0V315.3M408.22 305.0V312.4M409.67 305.0V316.4M408.77 305.0V310.7M410.92 305.0V315.5M410.02 305.0V310.2M412.00 305.0V316.4M411.10 305.0V310.7M412.80 305.0V312.7M414.30 305.0V313.9M415.50 305.0V313.6M414.60 305.0V309.2M417.17 305.0V324.0M416.27 305.0V314.8M418.00 305.0V324.0M417.10 305.0V314.8M419.25 305.0V310.9M418.35 305.0V307.7M420.72 305.0V310.7M422.58 305.0V314.6M421.68 305.0V309.7M424.25 305.0V318.6M423.35 305.0V311.9M425.30 305.0V313.0M426.50 305.0V318.2M425.60 305.0V311.7M427.38 305.0V315.8M428.83 305.0V310.9M427.93 305.0V307.7M430.30 305.0V315.6M431.75 305.0V309.5M430.85 305.0V306.9M432.63 305.0V309.6M435.08 305.0V310.9M434.18 305.0V307.7M436.75 305.0V317.3M435.85 305.0V311.2M438.00 305.0V310.9M437.10 305.0V307.7M439.67 305.0V315.8M438.77 305.0V310.4M440.92 305.0V310.9M440.02 305.0V307.7M442.83 305.0V319.1M441.93 305.0V312.1M443.83 305.0V310.9M442.93 305.0V307.7M446.13 305.0V311.8M449.05 305.0V308.3M450.50 305.0V307.2M449.60 305.0V305.7M452.22 305.0V315.0M452.42 305.0V317.3M451.52 305.0V311.2M453.42 305.0V314.1M452.52 305.0V309.4M454.47 305.0V311.8M455.92 305.0V309.3M455.02 305.0V306.8M459.47 305.0V311.5M461.30 305.0V309.7M467.38 305.0V309.1M468.63 305.0V307.5M469.88 305.0V309.5M471.17 305.0V310.9M470.27 305.0V307.7M472.00 305.0V317.4M471.10 305.0V311.2M475.08 305.0V310.9M474.18 305.0V307.7M476.75 305.0V314.1M475.85 305.0V309.4M479.05 305.0V307.3M481.33 305.0V314.7M480.43 305.0V309.7M484.47 305.0V309.1M486.17 305.0V314.7M485.27 305.0V309.7M487.00 305.0V316.9M486.10 305.0V310.9M488.00 305.0V313.6M487.10 305.0V309.2M490.72 305.0V314.9M490.92 305.0V310.9M490.02 305.0V307.7M491.80 305.0V312.4M493.00 305.0V315.0M492.10 305.0V309.9M495.50 305.0V310.9M494.60 305.0V307.7M496.17 305.0V314.1M495.27 305.0V309.4M498.42 305.0V318.0M497.52 305.0V311.6M499.50 305.0V318.0M498.60 305.0V311.6M500.92 305.0V310.9M500.02 305.0V307.7M502.17 305.0V314.6M501.27 305.0V309.7M503.25 305.0V318.0M502.35 305.0V311.6M505.30 305.0V312.1M506.33 305.0V311.8M505.43 305.0V308.2M507.42 305.0V324.2M506.52 305.0V314.9M508.42 305.0V318.2M507.52 305.0V311.7M509.67 305.0V309.5M508.77 305.0V306.9M511.08 305.0V320.9M510.18 305.0V313.1M513.42 305.0V312.0M512.52 305.0V308.3M514.67 305.0V307.2M513.77 305.0V305.7M515.92 305.0V309.5M515.02 305.0V306.9M517.42 305.0V315.3M516.52 305.0V310.1M520.08 305.0V313.2M519.18 305.0V308.9M521.80 305.0V310.4M523.83 305.0V309.5M522.93 305.0V306.9M524.92 305.0V313.2M524.02 305.0V308.9M525.75 305.0V309.1M524.85 305.0V306.7M529.92 305.0V307.5M529.02 305.0V305.8M532.80 305.0V309.1M535.08 305.0V313.2M534.18 305.0V308.9M535.92 305.0V307.2M535.02 305.0V305.7M561.24 284.5V303.9M561.44 281.6V303.9M560.54 291.7V303.9M562.31 284.0V303.9M561.41 293.0V303.9M563.36 288.8V303.9M562.46 295.6V303.9M564.24 285.9V303.9M563.34 294.1V303.9M565.11 289.8V303.9M564.21 296.2V303.9M568.87 290.6V303.9M567.97 296.6V303.9M569.92 300.6V303.9M569.02 302.1V303.9M571.06 288.2V303.9M570.16 295.3V303.9M572.11 290.2V303.9M571.21 296.4V303.9M573.05 298.0V303.9M575.87 283.1V303.9M574.97 292.5V303.9M576.75 288.1V303.9M575.85 295.2V303.9M577.80 296.0V303.9M576.90 299.6V303.9M578.73 297.0V303.9M579.78 298.7V303.9M580.66 296.7V303.9M582.00 290.2V303.9M581.10 296.4V303.9M582.87 284.5V303.9M581.97 293.3V303.9M585.06 300.8V303.9M584.16 302.2V303.9M586.20 283.8V303.9M585.30 292.9V303.9M587.07 287.4V303.9M586.17 294.9V303.9M587.95 292.4V303.9M587.05 297.6V303.9M589.67 300.4V303.9M590.81 298.0V303.9M593.98 291.0V303.9M593.08 296.8V303.9M595.12 296.5V303.9M594.22 299.8V303.9M595.99 288.8V303.9M595.09 295.6V303.9M596.87 287.4V303.9M595.97 294.9V303.9M598.24 300.4V303.9M599.93 296.7V303.9M599.03 300.0V303.9M600.98 284.2V303.9M600.08 293.2V303.9M602.12 294.1V303.9M601.22 298.5V303.9M602.99 287.5V303.9M602.09 294.9V303.9M604.04 294.6V303.9M603.14 298.8V303.9M604.98 298.9V303.9M607.19 297.0V303.9M606.29 300.1V303.9M608.04 296.7V303.9M609.29 294.6V303.9M608.39 298.8V303.9M610.17 290.7V303.9M609.27 296.7V303.9M611.13 288.1V303.9M610.23 295.2V303.9M612.00 296.5V303.9M611.10 299.8V303.9M612.85 301.9V303.9M614.17 293.8V303.9M615.48 298.3V303.9M616.82 298.4V303.9M615.92 300.9V303.9M617.87 290.6V303.9M616.97 296.6V303.9M618.72 298.1V303.9M620.05 298.4V303.9M619.15 300.9V303.9M621.34 301.9V303.9M624.25 295.8V303.9M623.35 299.4V303.9M625.13 284.4V303.9M624.23 293.2V303.9M626.00 290.2V303.9M625.10 296.4V303.9M627.05 296.5V303.9M626.15 299.8V303.9M627.73 301.9V303.9M628.98 296.5V303.9M628.08 299.8V303.9M629.94 295.8V303.9M629.04 299.4V303.9M632.98 301.9V303.9M955.90 300.9V303.9M956.90 296.7V303.9M958.90 298.9V303.9M967.90 297.7V303.9M969.90 300.9V303.9M970.90 294.2V303.9M971.90 300.9V303.9M976.60 300.9V303.9M978.20 297.7V303.9M979.70 295.5V303.9M982.60 296.7V303.9M984.40 298.9V303.9M986.10 298.9V303.9M986.90 285.0V303.9M990.90 294.9V303.9M991.90 300.9V303.9M992.90 292.2V303.9M995.70 290.0V303.9M996.40 292.2V303.9M997.70 295.5V303.9M998.90 291.2V303.9M999.90 300.9V303.9M1001.10 293.7V303.9M1002.20 296.7V303.9M1004.40 300.9V303.9M1005.90 294.9V303.9M1006.90 300.9V303.9M1008.20 298.9V303.9M1009.10 295.5V303.9M1010.10 297.7V303.9M1011.70 291.2V303.9M1012.90 300.9V303.9M1016.10 294.2V303.9M1017.20 295.5V303.9M1018.20 294.9V303.9M1018.90 294.2V303.9M1019.90 296.7V303.9M1020.90 296.7V303.9M1022.90 293.0V303.9M1025.70 297.7V303.9M1026.10 300.9V303.9M1027.90 294.9V303.9M1028.70 297.7V303.9M1030.90 295.5V303.9M1031.60 300.9V303.9M1034.40 298.9V303.9M1039.10 298.9V303.9M1041.10 297.7V303.9M1041.90 297.7V303.9M1042.90 296.7V303.9M1043.90 294.9V303.9M1044.90 300.9V303.9M1045.90 295.5V303.9M1046.70 298.9V303.9M1068.08 299.6V303.9M1067.18 300.7V303.9M1067.68 299.0V303.9M1069.15 289.1V303.9M1068.25 294.0V303.9M1068.75 291.5V303.9M1070.10 291.6V303.9M1069.20 294.9V303.9M1069.70 290.0V303.9M1071.05 280.5V303.9M1070.15 286.7V303.9M1070.65 277.3V303.9M1072.12 286.2V303.9M1071.22 290.9V303.9M1071.72 283.9V303.9M1073.07 290.7V303.9M1072.17 294.2V303.9M1072.67 288.9V303.9M1074.02 294.0V303.9M1073.12 297.3V303.9M1073.62 295.7V303.9M1075.08 278.2V303.9M1074.18 285.1V303.9M1074.68 274.8V303.9M1076.03 285.4V303.9M1075.13 290.3V303.9M1075.63 282.9V303.9M1076.98 271.1V303.9M1076.08 279.8V303.9M1076.58 266.7V303.9M1078.05 284.5V303.9M1077.15 289.6V303.9M1077.65 281.9V303.9M1079.00 287.6V303.9M1078.10 293.0V303.9M1078.60 290.3V303.9M1081.02 294.3V303.9M1080.12 296.8V303.9M1080.62 293.0V303.9M1081.97 284.0V303.9M1081.07 289.3V303.9M1081.57 281.4V303.9M1082.92 291.6V303.9M1082.02 294.9V303.9M1082.52 290.0V303.9M1083.99 286.2V303.9M1083.09 290.9V303.9M1083.59 283.9V303.9M1084.94 280.9V303.9M1084.04 287.0V303.9M1084.54 277.8V303.9M1085.89 285.4V303.9M1084.99 290.3V303.9M1085.49 282.9V303.9M1086.96 288.9V303.9M1086.06 292.9V303.9M1086.56 286.9V303.9M1087.91 290.7V303.9M1087.01 294.2V303.9M1087.51 288.9V303.9M1088.50 285.5V303.9M1087.60 291.6V303.9M1088.10 288.6V303.9M1089.93 270.7V303.9M1089.03 279.5V303.9M1089.53 266.2V303.9M1090.88 284.5V303.9M1089.98 289.6V303.9M1090.48 281.9V303.9M1091.83 290.5V303.9M1090.93 294.9V303.9M1091.43 292.7V303.9M1093.02 275.5V303.9M1092.12 285.0V303.9M1092.62 280.2V303.9M1093.85 273.8V303.9M1092.95 281.8V303.9M1093.45 269.8V303.9M1094.68 291.9V303.9M1093.78 295.9V303.9M1094.28 293.9V303.9M1096.22 284.5V303.9M1095.32 289.6V303.9M1095.82 281.9V303.9M1097.06 260.0V303.9M1096.16 271.7V303.9M1096.66 254.1V303.9M1098.01 281.8V303.9M1097.11 287.7V303.9M1097.61 278.9V303.9M1098.60 276.6V303.9M1097.70 285.7V303.9M1098.20 281.1V303.9M1099.55 278.2V303.9M1098.65 285.1V303.9M1099.15 274.8V303.9M1100.62 281.8V303.9M1099.72 287.7V303.9M1100.22 278.9V303.9M1101.57 286.9V303.9M1100.67 292.6V303.9M1101.17 289.7V303.9M1102.76 280.0V303.9M1101.86 286.4V303.9M1102.36 276.8V303.9M1103.71 287.1V303.9M1102.81 291.6V303.9M1103.31 284.9V303.9M1104.78 284.8V303.9M1103.88 291.1V303.9M1104.38 288.0V303.9M1105.96 279.6V303.9M1105.06 286.0V303.9M1105.56 276.3V303.9M1106.91 282.7V303.9M1106.01 288.3V303.9M1106.51 279.9V303.9M1108.10 273.3V303.9M1107.20 281.5V303.9M1107.70 269.3V303.9M1109.05 287.1V303.9M1108.15 291.6V303.9M1108.65 284.9V303.9M1109.88 289.8V303.9M1108.98 293.6V303.9M1109.48 287.9V303.9M1111.07 294.0V303.9M1110.17 297.3V303.9M1110.67 295.7V303.9M1112.26 277.3V303.9M1111.36 284.4V303.9M1111.86 273.8V303.9M1113.09 282.7V303.9M1112.19 288.3V303.9M1112.69 279.9V303.9M1114.04 284.5V303.9M1113.14 289.6V303.9M1113.64 281.9V303.9M1114.99 294.3V303.9M1114.09 296.8V303.9M1114.59 293.0V303.9M1115.82 290.5V303.9M1114.92 294.9V303.9M1115.42 292.7V303.9M1116.77 291.6V303.9M1115.87 294.9V303.9M1116.37 290.0V303.9M1117.84 275.1V303.9M1116.94 282.8V303.9M1117.44 271.3V303.9M1118.79 288.9V303.9M1117.89 292.9V303.9M1118.39 286.9V303.9M1119.74 290.7V303.9M1118.84 294.2V303.9M1119.34 288.9V303.9M1120.57 288.0V303.9M1119.67 293.3V303.9M1120.17 290.6V303.9M1121.52 296.9V303.9M1120.62 298.8V303.9M1121.12 296.0V303.9M1122.59 294.3V303.9M1121.69 296.8V303.9M1122.19 293.0V303.9M1123.54 291.9V303.9M1122.64 295.9V303.9M1123.14 293.9V303.9M1124.37 294.3V303.9M1123.47 296.8V303.9M1123.97 293.0V303.9M1125.32 289.1V303.9M1124.42 294.0V303.9M1124.92 291.5V303.9M1126.51 289.8V303.9M1125.61 293.6V303.9M1126.11 287.9V303.9M1127.46 290.7V303.9M1126.56 294.2V303.9M1127.06 288.9V303.9M1128.29 292.5V303.9M1127.39 295.5V303.9M1127.89 291.0V303.9M1129.12 296.5V303.9M1128.22 298.5V303.9M1128.72 295.5V303.9" stroke="#000" stroke-width="0.75" fill="none"/>
<path d="M446.5 305.0V326.5M960.5 291.5V303.9M963.5 291.5V303.9M1013.5 287.2V303.9M1082.5 305.0V313.9M1084.5 305.0V313.9M1103.5 305.0V319.2M1112.5 305.0V309.7M1131.5 305.0V309.7" stroke="#000" stroke-opacity="0.7" stroke-width="0.75" fill="none"/>
<path d="M81 303.85H1138.2" stroke="#111" stroke-width="1" fill="none"/>
<path d="M596.5 304.5V347.6M622.5 304.5V347.6" stroke="#f00" stroke-width="0.75" fill="none"/>
<text x="610.3" y="423.1" font-size="9.9" font-weight="bold" textLength="55.4" lengthAdjust="spacingAndGlyphs" text-anchor="middle" fill="#000" stroke="#000" stroke-width="0" >Annotations</text>
<path d="M374 464.0H271M277.3 460.35L271 464.0L277.3 467.65" stroke="#00f" stroke-width="0.75" fill="none"/>
<text x="322" y="460.9" font-size="7.92" textLength="50" lengthAdjust="spacingAndGlyphs" text-anchor="middle" fill="#00f" stroke="#00f" stroke-width="0.22" >gene YDL<tspan font-size="7.0">054</tspan>C</text>
<path d="M442.4 464.0H402.7M409.0 460.35L402.7 464.0L409.0 467.65" stroke="#00f" stroke-width="0.75" fill="none"/>
<text x="422" y="460.9" font-size="7.92" textLength="50" lengthAdjust="spacingAndGlyphs" text-anchor="middle" fill="#00f" stroke="#00f" stroke-width="0.22" >gene YDL<tspan font-size="7.0">053</tspan>C</text>
<path d="M535.7 464.0H471.3M477.6 460.35L471.3 464.0L477.6 467.65" stroke="#00f" stroke-width="0.75" fill="none"/>
<text x="503" y="460.9" font-size="7.92" textLength="50" lengthAdjust="spacingAndGlyphs" text-anchor="middle" fill="#00f" stroke="#00f" stroke-width="0.22" >gene YDL<tspan font-size="7.0">052</tspan>C</text>
<path d="M561.3 453.5H620M613.7 449.85L620 453.5L613.7 457.15" stroke="#00f" stroke-width="0.75" fill="none"/>
<text x="591" y="449.9" font-size="7.92" textLength="52.3" lengthAdjust="spacingAndGlyphs" text-anchor="middle" fill="#00f" stroke="#00f" stroke-width="0.22" >gene YDL<tspan font-size="7.0">051</tspan>W</text>
<path d="M622.7 464.0H596M602.3 460.35L596 464.0L602.3 467.65" stroke="#00f" stroke-width="0.75" fill="none"/>
<text x="609" y="460.9" font-size="7.92" textLength="50" lengthAdjust="spacingAndGlyphs" text-anchor="middle" fill="#00f" stroke="#00f" stroke-width="0.22" >gene YDL<tspan font-size="7.0">050</tspan>C</text>
<path d="M697 464.0H640.3M646.5999999999999 460.35L640.3 464.0L646.5999999999999 467.65" stroke="#00f" stroke-width="0.75" fill="none"/>
<text x="668" y="460.9" font-size="7.92" textLength="50" lengthAdjust="spacingAndGlyphs" text-anchor="middle" fill="#00f" stroke="#00f" stroke-width="0.22" >gene YDL<tspan font-size="7.0">049</tspan>C</text>
<path d="M862 464.0H757.7M764.0 460.35L757.7 464.0L764.0 467.65" stroke="#00f" stroke-width="0.75" fill="none"/>
<text x="809" y="460.9" font-size="7.92" textLength="50" lengthAdjust="spacingAndGlyphs" text-anchor="middle" fill="#00f" stroke="#00f" stroke-width="0.22" >gene YDL<tspan font-size="7.0">048</tspan>C</text>
<path d="M971 453.5H1037.7M1031.4 449.85L1037.7 453.5L1031.4 457.15" stroke="#00f" stroke-width="0.75" fill="none"/>
<text x="1004" y="449.9" font-size="7.92" textLength="52.3" lengthAdjust="spacingAndGlyphs" text-anchor="middle" fill="#00f" stroke="#00f" stroke-width="0.22" >gene YDL<tspan font-size="7.0">047</tspan>W</text>
<path d="M1074.7 453.5H1111.9M1105.6000000000001 449.85L1111.9 453.5L1105.6000000000001 457.15" stroke="#00f" stroke-width="0.75" fill="none"/>
<text x="1093" y="449.9" font-size="7.92" textLength="52" lengthAdjust="spacingAndGlyphs" text-anchor="middle" fill="#00f" stroke="#00f" stroke-width="0.22" >gene YDL<tspan font-size="7.0">046</tspan>W</text>
<path d="M253 474.5H260.5M254.2 470.85L260.5 474.5L254.2 478.15" stroke="#000" stroke-width="0.75" fill="none"/>
<text x="256.7" y="470.8" font-size="7.92" textLength="57.5" lengthAdjust="spacingAndGlyphs" text-anchor="middle" fill="#000" stroke="#000" stroke-width="0.22" >tRNA tK(UUU)D</text>
<path d="M1127.6 505.5H1053.1M1059.3999999999999 501.85L1053.1 505.5L1059.3999999999999 509.15" stroke="#000" stroke-width="0.75" fill="none"/>
<text x="1090" y="502.9" font-size="7.92" textLength="46.4" lengthAdjust="spacingAndGlyphs" text-anchor="middle" fill="#000" stroke="#000" stroke-width="0.22" >SUT SUT<tspan font-size="7.0">462</tspan></text>
<path d="M82 526.5H65.5M71.8 522.85L65.5 526.5L71.8 530.15" stroke="#000" stroke-width="0.75" fill="none"/>
<text x="73.8" y="523.8" font-size="7.92" textLength="48.5" lengthAdjust="spacingAndGlyphs" text-anchor="middle" fill="#000" stroke="#000" stroke-width="0.22" >CUT CUT<tspan font-size="7.0">488</tspan></text>
<path d="M877 526.5H865.2M871.5 522.85L865.2 526.5L871.5 530.15" stroke="#000" stroke-width="0.75" fill="none"/>
<text x="871" y="523.8" font-size="7.92" textLength="48.3" lengthAdjust="spacingAndGlyphs" text-anchor="middle" fill="#000" stroke="#000" stroke-width="0.22" >CUT CUT<tspan font-size="7.0">489</tspan></text>
<path d="M103.7 537.0H234.2M227.89999999999998 533.35L234.2 537.0L227.89999999999998 540.65" stroke="#f00" stroke-width="0.75" fill="none"/>
<text x="169" y="534.8" font-size="7.92" textLength="42" lengthAdjust="spacingAndGlyphs" text-anchor="middle" fill="#f00" stroke="#f00" stroke-width="0.22" >XUT <tspan font-size="7.0">4</tspan>F-<tspan font-size="7.0">175</tspan></text>
<path d="M671.7 537.0H694M687.7 533.35L694 537.0L687.7 540.65" stroke="#f00" stroke-width="0.75" fill="none"/>
<text x="683" y="534.8" font-size="7.92" textLength="42.2" lengthAdjust="spacingAndGlyphs" text-anchor="middle" fill="#f00" stroke="#f00" stroke-width="0.22" >XUT <tspan font-size="7.0">4</tspan>F-<tspan font-size="7.0">180</tspan></text>
<path d="M800.8 537.0H877.8M871.5 533.35L877.8 537.0L871.5 540.65" stroke="#f00" stroke-width="0.75" fill="none"/>
<text x="838.7" y="534.8" font-size="7.92" textLength="41.4" lengthAdjust="spacingAndGlyphs" text-anchor="middle" fill="#f00" stroke="#f00" stroke-width="0.22" >XUT <tspan font-size="7.0">4</tspan>F-<tspan font-size="7.0">181</tspan></text>
<path d="M1130.9 547.5H1058.7M1065.0 543.85L1058.7 547.5L1065.0 551.15" stroke="#f00" stroke-width="0.75" fill="none"/>
<text x="1094.5" y="544.7" font-size="7.92" textLength="42.9" lengthAdjust="spacingAndGlyphs" text-anchor="middle" fill="#f00" stroke="#f00" stroke-width="0.22" >XUT <tspan font-size="7.0">4</tspan>R-<tspan font-size="7.0">155</tspan></text>
<text x="610" y="623" font-size="9.9" font-weight="bold" textLength="32.5" lengthAdjust="spacingAndGlyphs" text-anchor="middle" fill="#000" stroke="#000" stroke-width="0" >Legend</text>
<path d="M477 664H742M735.7 660.35L742 664L735.7 667.65" stroke="#00f" stroke-width="0.75" fill="none"/>
<text x="610" y="654.6" font-size="7.92" textLength="20" lengthAdjust="spacingAndGlyphs" text-anchor="middle" fill="#00f" stroke="#00f" stroke-width="0.22" >genes</text>
<path d="M477 705.5H742M735.7 701.85L742 705.5L735.7 709.15" stroke="#f00" stroke-width="0.75" fill="none"/>
<text x="610" y="697.7" font-size="7.92" textLength="20" lengthAdjust="spacingAndGlyphs" text-anchor="middle" fill="#f00" stroke="#f00" stroke-width="0.22" >XUTs</text>
<path d="M477 747.5H742M735.7 743.85L742 747.5L735.7 751.15" stroke="#000" stroke-width="0.75" fill="none"/>
<text x="609" y="739.9" font-size="7.92" textLength="16.2" lengthAdjust="spacingAndGlyphs" text-anchor="middle" fill="#000" stroke="#000" stroke-width="0.22" >other</text>
</svg>
</body></html>
